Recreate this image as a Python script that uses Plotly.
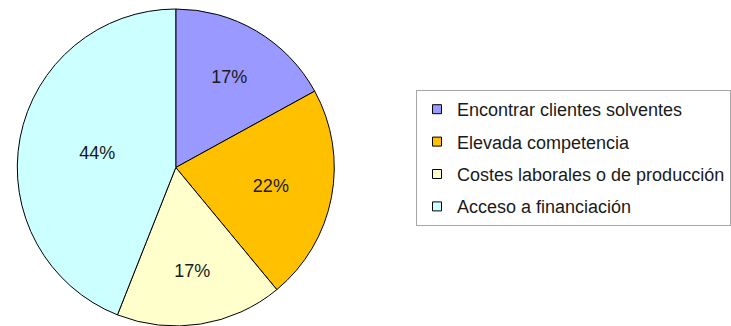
import plotly.graph_objects as go

categories = ["Encontrar clientes solventes", "Elevada competencia",
              "Costes laborales o de producción", "Acceso a financiación"]
values = [17, 22, 17, 44]
colors = ["#9999FF", "#FFC000", "#FFFFCC", "#CCFFFF"]

W, H = 731, 326
FONT = "Liberation Sans, Arial, sans-serif"

fig = go.Figure()
fig.add_trace(go.Pie(
    labels=categories, values=values, sort=False, direction="clockwise",
    rotation=0, marker=dict(colors=colors, line=dict(color="#000000", width=1)),
    textinfo="percent", textposition="inside", insidetextorientation="horizontal",
    textfont=dict(family=FONT, size=18, color="#1a1a1a"),
    showlegend=False, hoverinfo="label+percent",
    domain=dict(x=[17 / W, 337 / W], y=[0, 317 / H]),
))

for i, (cat, col) in enumerate(zip(categories, colors)):
    fig.add_trace(go.Scatter(
        x=[None], y=[None], mode="markers", name=cat, legendgroup=f"g{i}",
        marker=dict(symbol="square", size=9, color=col,
                    line=dict(color="#000000", width=1)),
    ))

fig.update_layout(
    width=W, height=H, margin=dict(l=0, r=0, t=0, b=0),
    paper_bgcolor="white", plot_bgcolor="white",
    xaxis=dict(visible=False), yaxis=dict(visible=False),
    font=dict(family=FONT, size=18, color="#1a1a1a"),
    legend=dict(x=419 / W, y=1 - 90 / H, xanchor="left", yanchor="top",
                bordercolor="#A6A6A6", borderwidth=1, bgcolor="white",
                tracegroupgap=6, traceorder="grouped",
                font=dict(family=FONT, size=18, color="#1a1a1a")),
)

fig.write_html("out.html", config={"displayModeBar": False},
               post_script="document.body.style.margin='0px';")
